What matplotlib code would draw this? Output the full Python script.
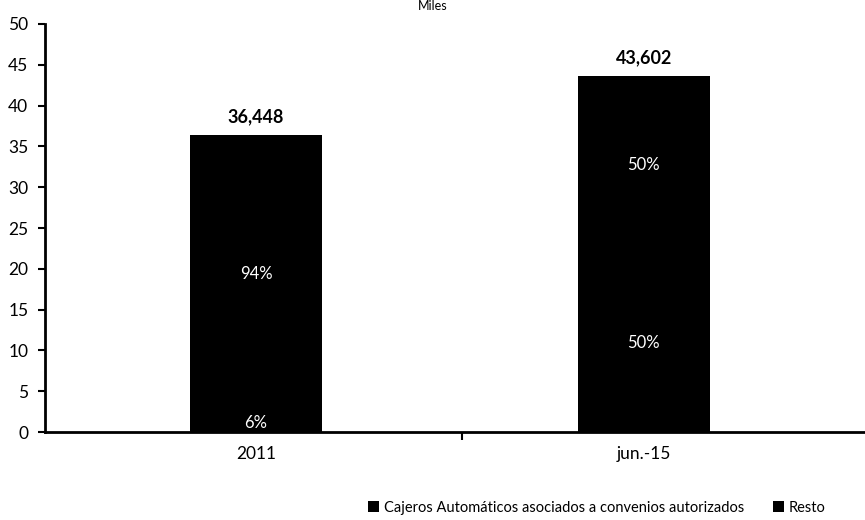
import numpy as np
import matplotlib
matplotlib.use("Agg")
import matplotlib.pyplot as plt

# data (miles de cajeros)
periodos = ["2011", "jun.-15"]
totales = [36.448, 43.602]
total_labels = ["36,448", "43,602"]
pct_convenio = [6, 50]
pct_resto = [94, 50]

plt.rcParams['font.family'] = ['Lato', 'DejaVu Sans']

convenio = [t * p / 100.0 for t, p in zip(totales, pct_convenio)]
resto = [t * p / 100.0 for t, p in zip(totales, pct_resto)]

fig = plt.figure(figsize=(8.65, 5.2), dpi=100)
ax = fig.add_axes([0.052, 0.169, 0.948, 0.785])

x = np.arange(len(periodos))
w = 0.34
b1 = ax.bar(x, convenio, w, color="black", label="Cajeros Automáticos asociados a convenios autorizados")
b2 = ax.bar(x, resto, w, bottom=convenio, color="black", label="Resto")

for i in range(len(x)):
    ax.text(x[i], convenio[i] / 2, f"{pct_convenio[i]}%", color="white",
            ha="center", va="center", fontsize=12)
    ax.text(x[i], convenio[i] + resto[i] / 2, f"{pct_resto[i]}%", color="white",
            ha="center", va="center", fontsize=12)
    ax.annotate(total_labels[i], (x[i], totales[i]), xytext=(0, 7),
                textcoords="offset points", ha="center", va="bottom",
                fontsize=13, fontweight="bold")

ax.set_xlim(-0.544, 1.57)
ax.set_ylim(0, 50)
ax.set_yticks(range(0, 51, 5))
ax.set_xticks(x)
ax.set_xticklabels(periodos)
ax.set_xticks([0.53], minor=True)
ax.tick_params(axis="x", which="major", length=0, labelsize=12.5, pad=10)
ax.tick_params(axis="x", which="minor", length=6, width=1.5, direction="out")
ax.tick_params(axis="y", length=5, width=1.5, labelsize=12.5, pad=7)

for s in ["top", "right"]:
    ax.spines[s].set_visible(False)
ax.spines["left"].set_linewidth(2)
ax.spines["bottom"].set_linewidth(2)

fig.text(0.5, 1.0, "Miles", ha="center", va="top", fontsize=9)

fig.legend(handles=[b1, b2], loc="lower center", bbox_to_anchor=(0.69, -0.015),
           ncol=2, frameon=False, fontsize=10.5, handlelength=0.75, handleheight=0.75,
           handletextpad=0.3, columnspacing=2.0)

fig.savefig("out.png", dpi=100)
